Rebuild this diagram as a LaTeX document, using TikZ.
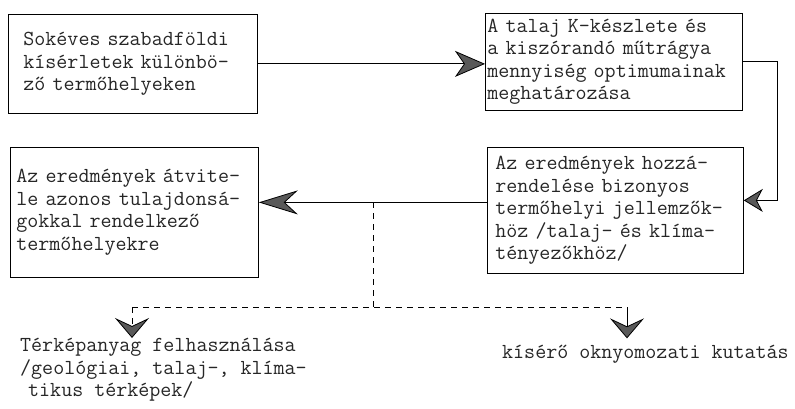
\documentclass[tikz,border=0pt]{standalone}
\usepackage{fontspec}
\usetikzlibrary{arrows.meta}
\tikzset{
  txt/.style={font=\ttfamily\fontsize{21.4}{22.5}\selectfont, text=black!85, align=left},
  box/.style={txt, draw, line width=0.8pt, anchor=north west, inner ysep=0pt},
  conn/.style={draw, line width=0.8pt},
  dsh/.style={conn, dash pattern=on 6pt off 5pt},
  tipA/.style={-{Stealth[length=30pt,width=26pt,inset=9pt,fill=black!65]}},
  tipB/.style={-{Stealth[length=19pt,width=23pt,inset=6pt,fill=black!65]}},
  tipC/.style={-{Stealth[length=39pt,width=24pt,inset=13pt,fill=black!65]}},
  tipD/.style={-{Stealth[length=20pt,width=34pt,inset=8pt,fill=black!65]}},
}
\begin{document}
\begin{tikzpicture}[x=1pt,y=-1pt]
\useasboundingbox (0,0) rectangle (795,409);
\node[box, minimum width=249, minimum height=99, text width=219, inner xsep=15] (b1) at (8,14)
  {Sokéves szabadföldi\\kísérletek különbö-\\ző termőhelyeken};
\node[box, minimum width=257, minimum height=97, text width=253, inner xsep=2] (b2) at (485,13)
  {A talaj K-készlete és\\a kiszórandó műtrágya\\mennyiség optimumainak\\meghatározása};
\node[box, minimum width=256, minimum height=126, text width=240, inner xsep=8] (b3) at (487,147)
  {Az eredmények hozzá-\\rendelése bizonyos\\termőhelyi jellemzők-\\höz /talaj- és klíma-\\tényezőkhöz/};
\node[box, minimum width=248, minimum height=130, text width=236, inner xsep=6] (b4) at (10,147)
  {Az eredmények átvite-\\le azonos tulajdonsá-\\gokkal rendelkező\\termőhelyekre};
\node[txt, anchor=north west, inner sep=0pt] (t1) at (20,338)
  {Térképanyag felhasználása\\/geológiai, talaj-, klíma-\\\hspace*{8pt}tikus térképek/};
\node[txt, anchor=base west, inner sep=0pt] (t2) at (502,358) {kísérő oknyomozati kutatás};

\draw[conn, tipA] (b1.east) -- (b1.east -| b2.west);
\draw[conn, tipB] (b2.east) -- ++(35,0) |- ([yshift=10pt]b3.east);
\draw[conn, tipC] ([yshift=8pt]b3.west) -- ([yshift=8pt]b3.west -| b4.east);
\coordinate (j) at (373,202);
\coordinate (jd) at (373,307);
\coordinate (dl) at (132,307);
\coordinate (dr) at (627,307);
\draw[dsh] (j) -- (jd);
\draw[dsh] (dl) -- (dr);
\draw[dsh, tipD] (dl) -- (dl |- t1.north);
\draw[conn, tipD] (dr) -- ([yshift=6pt]dr |- t2.north);
\end{tikzpicture}
\end{document}
